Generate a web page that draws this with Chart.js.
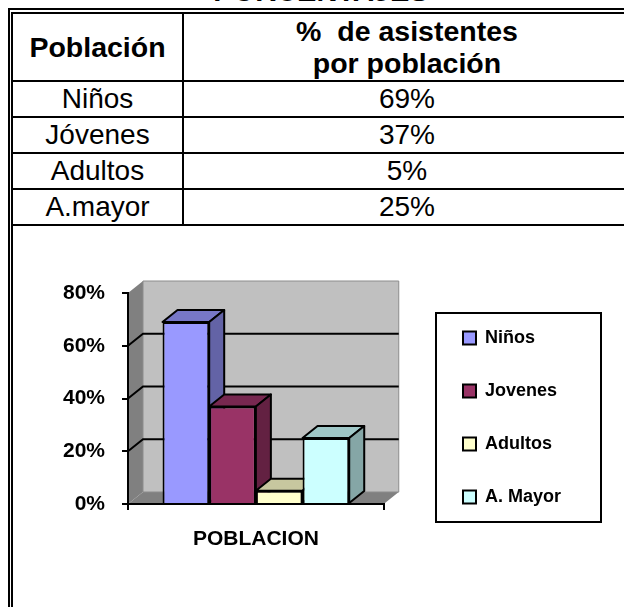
<!DOCTYPE html>
<html>
<head>
<meta charset="utf-8">
<script src="https://cdn.jsdelivr.net/npm/chart.js@4"></script>
<style>
html, body { margin: 0; padding: 0; background: #fff; overflow: hidden; }
body { width: 624px; height: 607px; position: relative; font-family: "Liberation Sans", Arial, sans-serif; color: #000; }
#heading { position: absolute; left: 0; top: -23px; width: 642px; text-align: center; font-size: 29px; font-weight: bold; line-height: 28px; }
#frame { position: absolute; left: 8px; top: 8px; width: 700px; height: 700px; border: 2px solid #000; }
#frameInner { position: absolute; left: 1px; top: 2px; right: 0; bottom: 0; border: 2px solid #000; }
table { position: absolute; left: 13px; top: 14px; width: 700px; border-collapse: collapse; table-layout: fixed; }
td { border-bottom: 2px solid #000; text-align: center; padding: 0; font-size: 28px; line-height: 30px; }
td:first-child { width: 169px; border-right: 2px solid #000; }
tr.head td { height: 66px; font-weight: bold; font-size: 28.5px; line-height: 32px; }
tr.row td { height: 34px; }
td.val { text-align: left; }
td.val span { display: inline-block; width: 446px; text-align: center; }
#chartBox { position: absolute; left: 0; top: 270px; }
</style>
</head>
<body>
<div id="heading">PORCENTAJES</div>
<div id="frame"><div id="frameInner"></div></div>
<table id="tbl"></table>
<div id="chartBox"><canvas id="grafico" width="624" height="337"></canvas></div>
<script>
'use strict';

var poblacion = ['Niños', 'Jóvenes', 'Adultos', 'A.mayor'];
var porcentajes = [69, 37, 5, 25];
var leyenda = ['Niños', 'Jovenes', 'Adultos', 'A. Mayor'];
var colores = ['#9999ff', '#993366', '#ffffcc', '#ccffff'];
var categoria = ['POBLACION'];
var DX = 15, DY = 12;

// tabla de arriba
var tbl = document.getElementById('tbl');
var html = '<tr class="head"><td>Población</td><td class="val"><span>% &nbsp;de asistentes<br>por población</span></td></tr>';
poblacion.forEach(function (p, i) {
    html += '<tr class="row"><td>' + p + '</td><td class="val"><span>' + porcentajes[i] + '%</span></td></tr>';
});
tbl.innerHTML = html;

function oscurecer(hex, f) {
    var n = parseInt(hex.slice(1), 16);
    return 'rgb(' + Math.round((n >> 16) * f) + ',' + Math.round(((n >> 8) & 255) * f) + ',' + Math.round((n & 255) * f) + ')';
}

function poligono(ctx, pts, fill, stroke, lw) {
    ctx.beginPath();
    ctx.moveTo(pts[0][0], pts[0][1]);
    for (var i = 1; i < pts.length; i++) ctx.lineTo(pts[i][0], pts[i][1]);
    ctx.closePath();
    ctx.fillStyle = fill;
    ctx.fill();
    if (stroke) {
        ctx.strokeStyle = stroke;
        ctx.lineWidth = lw;
        ctx.stroke();
    }
}

var efecto3d = {
    id: 'efecto3d',
    afterLayout: function (chart) {
        var l = chart.legend;
        l.left = 428;
        l.right = 599;
        l.top = 0;
        l.bottom = 295;
    },
    beforeDraw: function (chart) {
        var ctx = chart.ctx, a = chart.chartArea, y = chart.scales.y;
        ctx.save();
        // pared izquierda, piso y fondo
        poligono(ctx, [[a.left, a.top], [a.left + DX, a.top - DY], [a.left + DX, a.bottom - DY], [a.left, a.bottom]], '#808080');
        poligono(ctx, [[a.left, a.bottom], [a.left + DX, a.bottom - DY], [a.right + DX, a.bottom - DY], [a.right, a.bottom]], '#808080');
        poligono(ctx, [[a.left + DX, a.top - DY], [a.right + DX, a.top - DY], [a.right + DX, a.bottom - DY], [a.left + DX, a.bottom - DY]], '#c0c0c0', '#8c8c8c', 1);
        // lineas de la cuadricula sobre la pared
        y.ticks.forEach(function (t) {
            if (t.value === 0 || t.value === 80) return;
            var py = y.getPixelForValue(t.value);
            ctx.strokeStyle = '#000';
            ctx.lineWidth = 2;
            ctx.beginPath();
            ctx.moveTo(a.left, py);
            ctx.lineTo(a.left + DX, py - DY);
            ctx.lineTo(a.right + DX, py - DY);
            ctx.stroke();
        });
        // recuadro de la leyenda
        ctx.strokeStyle = '#000';
        ctx.lineWidth = 2;
        ctx.strokeRect(436, 43, 165, 209);
        ctx.restore();
    },
    // caras de arriba y de lado, de izquierda a derecha; el frente lo pone Chart.js encima
    beforeDatasetsDraw: function (chart) {
        var ctx = chart.ctx;
        ctx.save();
        ctx.lineJoin = 'round';
        chart.data.datasets.forEach(function (ds, i) {
            var bar = chart.getDatasetMeta(i).data[0];
            if (!bar) return;
            var p = bar.getProps(['x', 'y', 'width', 'base'], true);
            var l = p.x - p.width / 2, r = p.x + p.width / 2;
            poligono(ctx, [[l, p.y], [l + DX, p.y - DY], [r + DX, p.y - DY], [r, p.y]], oscurecer(ds.backgroundColor, 0.78), '#000', 2);
            poligono(ctx, [[r, p.y], [r + DX, p.y - DY], [r + DX, p.base - DY], [r, p.base]], oscurecer(ds.backgroundColor, 0.65), '#000', 2);
        });
        ctx.restore();
    }
};

new Chart(document.getElementById('grafico').getContext('2d'), {
    type: 'bar',
    data: {
        labels: categoria,
        datasets: leyenda.map(function (nombre, i) {
            return {
                label: nombre,
                data: [porcentajes[i]],
                backgroundColor: colores[i],
                borderColor: '#000',
                borderWidth: 2,
                barPercentage: 1,
                categoryPercentage: 0.73
            };
        })
    },
    options: {
        responsive: false,
        animation: false,
        layout: { padding: { left: 50, right: 129, top: 23, bottom: 55 } },
        plugins: {
            title: { display: false },
            tooltip: { enabled: false },
            legend: {
                position: 'right',
                labels: {
                    boxWidth: 13,
                    boxHeight: 13,
                    padding: 35,
                    color: '#000',
                    font: { family: '"Liberation Sans"', size: 18, weight: 'bold' }
                }
            }
        },
        scales: {
            x: {
                afterFit: function (s) { s.height = 48; },
                border: { color: '#000', width: 2 },
                grid: { drawOnChartArea: false, color: '#000', lineWidth: 2, tickLength: 6 },
                ticks: { color: '#000', padding: 17, maxRotation: 0, font: { family: '"Liberation Sans"', size: 21, weight: 'bold' } }
            },
            y: {
                min: 0,
                max: 80,
                afterFit: function (s) {
                    s.width = 78;
                    s.paddingTop = 0;
                    s.paddingBottom = 0;
                },
                border: { color: '#000', width: 2 },
                grid: { drawOnChartArea: false, color: '#000', lineWidth: 2, tickLength: 6 },
                ticks: {
                    stepSize: 20,
                    color: '#000',
                    padding: 17,
                    font: { family: '"Liberation Sans"', size: 21, weight: 'bold' },
                    callback: function (v) { return v + '%'; }
                }
            }
        }
    },
    plugins: [efecto3d]
});
</script>
</body>
</html>
